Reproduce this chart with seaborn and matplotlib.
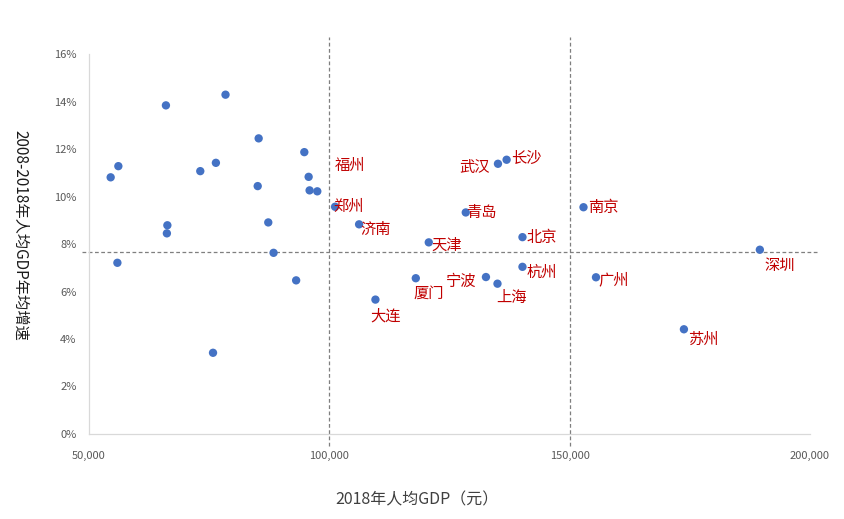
import matplotlib
matplotlib.use("Agg")
import matplotlib.pyplot as plt
import matplotlib.ticker as mticker
import seaborn as sns
import pandas as pd

# unlabeled cities (2018 GDP per capita, 2008-2018 avg growth)
other_gdp = [54500, 56100, 55900, 66000, 66300, 66200, 73150, 76400, 78400, 75800,
             85300, 85100, 87300, 88400, 93100, 94800, 95700, 95900, 97500]
other_growth = [0.1081, 0.1128, 0.0721, 0.1384, 0.0879, 0.0845, 0.1107, 0.1142, 0.1429, 0.0342,
                0.1245, 0.1044, 0.0891, 0.0763, 0.0647, 0.1187, 0.1083, 0.1026, 0.1022]

# labeled cities
city_names = ["福州", "郑州", "济南", "天津", "青岛", "武汉", "长沙", "北京", "杭州",
              "宁波", "上海", "厦门", "大连", "南京", "深圳", "广州", "苏州"]
city_gdp = [102000, 101200, 106200, 120700, 128400, 135100, 136900, 140200, 140200,
            132600, 135000, 118000, 109600, 152900, 189600, 155500, 173800]
city_growth = [0.1138, 0.0957, 0.0883, 0.0807, 0.0933, 0.1138, 0.1155, 0.0829, 0.0704,
               0.0661, 0.0633, 0.0656, 0.0566, 0.0955, 0.0776, 0.0660, 0.0441]
# label offsets in points (dx, dy) and horizontal alignment
label_offsets = [(-3, -1, "left"), (-1, 0, "left"), (1, -4, "left"), (2, -2, "left"),
                 (0, 0, "left"), (-6, -3, "right"), (3, 1, "left"), (3, 0, "left"),
                 (3, -4, "left"), (-7, -3, "right"), (-1, -10, "left"), (-2, -11, "left"),
                 (-4, -12, "left"), (3, 0, "left"), (3, -11, "left"), (2, -2, "left"),
                 (3, -7, "left")]

avg_growth = 0.0766
x_marks = [100000, 150000]

df = pd.DataFrame({
    "gdp": other_gdp + city_gdp,
    "growth": other_growth + city_growth,
})

sns.set_style("white")
plt.rcParams["font.family"] = ["Noto Sans CJK SC", "DejaVu Sans"]

fig = plt.figure(figsize=(8.44, 5.19), dpi=100)
ax = fig.add_axes([0.1055, 0.1638, 0.854, 0.732])

sns.scatterplot(data=df, x="gdp", y="growth", color="#4472C4", s=36,
                edgecolor="none", ax=ax, zorder=3)

for name, gx, gy, (dx, dy, ha) in zip(city_names, city_gdp, city_growth, label_offsets):
    t = ax.annotate(name, (gx, gy), xytext=(dx, dy), textcoords="offset points",
                    ha=ha, va="center", fontsize=11, color="#C00000", zorder=4)
    if name == "福州":
        # the label sits over its own point in the original
        t.set_bbox(dict(facecolor="white", edgecolor="none", pad=0.5))

ax.plot([48500, 201800], [avg_growth, avg_growth], ls=(0, (3, 2)), lw=0.9,
        color="#7f7f7f", clip_on=False, zorder=2)
for xm in x_marks:
    ax.plot([xm, xm], [-0.005, 0.167], ls=(0, (3, 2)), lw=0.9,
            color="#7f7f7f", clip_on=False, zorder=2)

ax.set_xlim(50000, 200000)
ax.set_ylim(0, 0.16)
ax.set_xticks([50000, 100000, 150000, 200000])
ax.set_yticks([i * 0.02 for i in range(9)])
ax.xaxis.set_major_formatter(mticker.FuncFormatter(lambda v, p: f"{int(v):,}"))
ax.yaxis.set_major_formatter(mticker.FuncFormatter(lambda v, p: f"{v * 100:.0f}%"))
ax.tick_params(axis="x", length=0, pad=12, labelsize=8, labelcolor="#595959")
ax.tick_params(axis="y", length=0, pad=9, labelsize=8, labelcolor="#595959")

for side in ["top", "right"]:
    ax.spines[side].set_visible(False)
for side in ["left", "bottom"]:
    ax.spines[side].set_color("#d9d9d9")
    ax.spines[side].set_linewidth(0.9)

ax.set_xlabel("2018年人均GDP（元）", fontsize=11.5, color="#404040")
ax.xaxis.set_label_coords(0.455, -0.15)
ax.set_ylabel("2008-2018年人均GDP年均增速", fontsize=11, color="#1a1a1a",
              rotation=-90, va="center")
ax.yaxis.set_label_coords(-0.095, 0.524)

fig.savefig("out.png", dpi=100)
